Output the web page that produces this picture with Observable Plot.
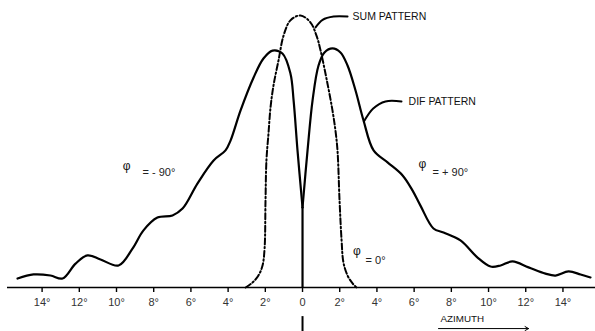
<!DOCTYPE html>
<html>
<head>
<meta charset="utf-8">
<script src="https://cdn.jsdelivr.net/npm/d3@7"></script>
<script src="https://cdn.jsdelivr.net/npm/@observablehq/plot@0.6"></script>
<style>
  html, body { margin: 0; padding: 0; background: #fff; }
  #chart svg { display: block; }
</style>
</head>
<body>
<div id="chart"></div>
<script>
// Azimuth (degrees) vs relative level (% of sum-pattern peak)
const sumAz    = [-3.06,-2.69,-2.37,-2.15,-2.04,-1.99,-1.94,-1.83,-1.72,-1.56,-1.29,-1.02,-0.65,-0.11,0.43,0.75,0.97,1.34,1.61,1.77,1.88,1.99,2.10,2.20,2.42,2.69,2.90];
const sumLevel = [0,1.8,4.4,8.1,14.3,32,46.7,56.6,66.2,74.3,83.5,92.6,98.2,100,97.4,92.6,87.1,75,65.1,57.7,50.4,32,17.3,9.2,4.4,1.5,0];

const difLeftAz    = [-15.32,-14.46,-13.55,-12.90,-12.20,-11.56,-10.86,-9.89,-9.14,-8.55,-7.80,-6.99,-6.45,-5.65,-4.78,-4.14,-3.87,-3.33,-2.63,-2.10,-1.61,-1.08,-0.65,-0.48,-0.27,0];
const difLeftLevel = [3.3,4.8,4.4,3.3,8.8,11.8,10.3,8.1,14.3,21.0,25.7,26.5,29.0,38.2,46.7,50.4,54.0,65.1,77.2,84.2,87.1,86.0,78.7,68.8,50.4,29.4];

const difRightAz    = [0,0.27,0.54,0.86,1.18,1.61,2.04,2.42,2.85,3.28,3.82,4.57,5.38,5.91,6.34,7.04,7.58,8.49,9.41,10.11,10.65,11.29,12.15,13.06,13.60,14.30,14.95,15.48];
const difRightLevel = [29.4,50.4,68.8,81.6,86.4,87.9,86.4,81.6,72.4,61.4,50.4,46.0,41.2,35.7,30.1,21.7,20.2,17.3,11.0,7.7,8.1,9.6,7.4,5.1,4.4,5.9,4.8,3.7];

const nullLevel = 29.4;

const tickDeg = [-14,-12,-10,-8,-6,-4,-2,0,2,4,6,8,10,12,14];
const tickLabels = ["14°","12°","10°","8°","6°","4°","2°","0","2°","4°","6°","8°","10°","12°","14°"];

const sumData = sumAz.map((a, i) => ({az: a, level: sumLevel[i]}));
const difData = [
  ...difLeftAz.map((a, i) => ({az: a, level: difLeftLevel[i], side: "L"})),
  ...difRightAz.map((a, i) => ({az: a, level: difRightLevel[i], side: "R"}))
];

const sumLeader = [{x: 0.70, y: 95.6}, {x: 1.08, y: 98.4}, {x: 1.67, y: 99.6}, {x: 2.42, y: 99.6}];
const difLeader = [{x: 3.30, y: 61.0}, {x: 3.80, y: 65.8}, {x: 4.46, y: 68.4}, {x: 5.32, y: 68.4}];

const font = "'Liberation Sans', Arial, Helvetica, sans-serif";

const chart = Plot.plot({
  width: 595,
  height: 331,
  marginLeft: 7,
  marginRight: 0,
  marginTop: 0,
  marginBottom: 44,
  x: {domain: [-15.86, 15.75]},
  y: {domain: [0, 105.5], axis: null},
  style: {fontFamily: font, background: "#fff", overflow: "visible"},
  marks: [
    Plot.ruleY([0], {stroke: "#000", strokeWidth: 1.6}),
    Plot.axisX({
      ticks: tickDeg,
      tickFormat: d => tickLabels[tickDeg.indexOf(d)],
      tickSize: 5,
      tickPadding: 6,
      stroke: "#000",
      strokeWidth: 1.4,
      fontSize: 11,
      fill: "#333",
      label: null
    }),
    Plot.ruleX([0], {y1: 0, y2: nullLevel, stroke: "#000", strokeWidth: 2.2}),
    Plot.ruleX([0], {y1: -10.7, y2: -16.5, stroke: "#000", strokeWidth: 2}),
    Plot.line(difData, {x: "az", y: "level", z: "side", curve: "catmull-rom", stroke: "#000", strokeWidth: 2.2}),
    Plot.line(sumData, {x: "az", y: "level", curve: "catmull-rom", stroke: "#000", strokeWidth: 2, strokeDasharray: "6,2.5,1.5,2.5"}),
    Plot.line(sumLeader, {x: "x", y: "y", curve: "catmull-rom", stroke: "#000", strokeWidth: 2}),
    Plot.line(difLeader, {x: "x", y: "y", curve: "catmull-rom", stroke: "#000", strokeWidth: 2}),
    Plot.text(["SUM PATTERN"], {x: 2.69, y: 99.6, text: d => d, textAnchor: "start", fontSize: 10.5, fill: "#111"}),
    Plot.text(["DIF PATTERN"], {x: 5.70, y: 68.4, text: d => d, textAnchor: "start", fontSize: 10.5, fill: "#111"}),
    Plot.text(["φ"], {x: -9.45, y: 44.6, text: d => d, fontSize: 12, fill: "#111"}),
    Plot.text(["= - 90°"], {x: -8.60, y: 42.4, text: d => d, textAnchor: "start", fontSize: 11, fill: "#222"}),
    Plot.text(["φ"], {x: 6.45, y: 45.3, text: d => d, fontSize: 12, fill: "#111"}),
    Plot.text(["= + 90°"], {x: 6.99, y: 42.2, text: d => d, textAnchor: "start", fontSize: 11, fill: "#222"}),
    Plot.text(["φ"], {x: 2.92, y: 13.3, text: d => d, fontSize: 12, fill: "#111"}),
    Plot.text(["= 0°"], {x: 3.39, y: 9.9, text: d => d, textAnchor: "start", fontSize: 11, fill: "#222"}),
    Plot.text(["AZIMUTH"], {x: 7.42, y: -11.4, text: d => d, textAnchor: "start", fontSize: 9.8, fill: "#111"}),
    Plot.arrow([0], {x1: 7.31, x2: 12.15, y1: -15.1, y2: -15.1, stroke: "#000", strokeWidth: 1, headLength: 6})
  ]
});

document.getElementById("chart").appendChild(chart);
</script>
</body>
</html>
